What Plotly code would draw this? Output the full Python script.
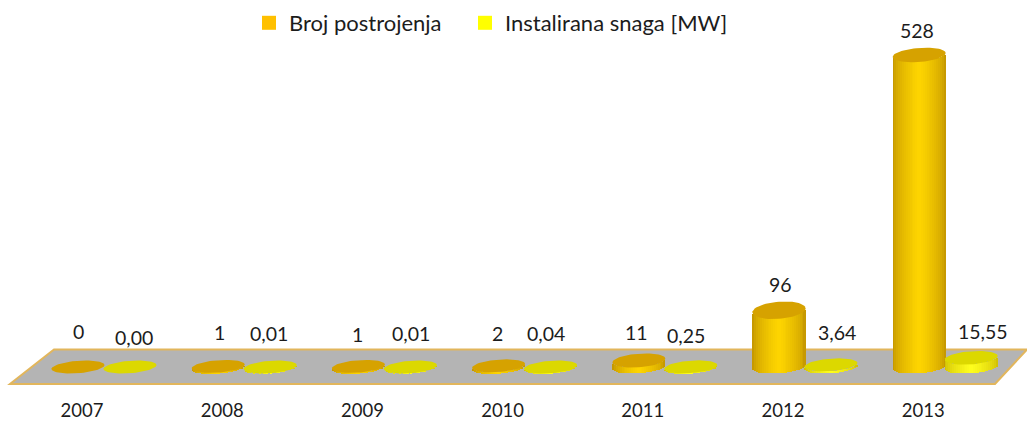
import numpy as np
import plotly.graph_objects as go

# ---- data ----
years = [2007, 2008, 2009, 2010, 2011, 2012, 2013]
broj_postrojenja = [0, 1, 1, 2, 11, 96, 528]
instalirana_snaga = [0.00, 0.01, 0.01, 0.04, 0.25, 3.64, 15.55]
broj_labels = ["0", "1", "1", "2", "11", "96", "528"]
snaga_labels = ["0,00", "0,01", "0,01", "0,04", "0,25", "3,64", "15,55"]
series_names = ["Broj postrojenja", "Instalirana snaga [MW]"]

# ---- geometry / style ----
W, H = 1027, 421
AXIS_PX, ZERO_PX, PX_PER_UNIT = 397, 367, 0.591
X0_PX, PX_PER_YEAR = 82, 140.2
FONT = "Lato"
FS_LABEL = 19.5
FS_TICK = 18.5
FS_LEGEND = 22
TXT = "#1c1c1c"


def xdata(px):
    return 2007 + (px - X0_PX) / PX_PER_YEAR


def paper_x(px):
    return px / W


def paper_y(py):
    return 1 - py / AXIS_PX


def mix(c1, c2, t):
    a, b = np.array(c1, float), np.array(c2, float)
    r = a + (b - a) * t
    return "rgb(%d,%d,%d)" % tuple(r)


HALF_W, TILT = 26.5, 1.9
STRIPS = 28
broj_half_h = [6.2, 6.2, 6.2, 6.2, 6.8, 8.6, 7.0]
snaga_half_h = [6.2, 6.2, 6.2, 6.2, 6.2, 6.2, 6.6]


def cylinder(values, half_hs, offset_px, edge, centre):
    xs, bases, heights, colors = [], [], [], []
    sw = 2 * HALF_W / STRIPS
    for yr, v, hh in zip(years, values, half_hs):
        for i in range(STRIPS):
            dx = -HALF_W + sw * (i + 0.5)
            u = dx / HALF_W
            low = -6.2 * np.sqrt(1 - u * u) + TILT * u
            xs.append(yr + (offset_px + dx) / PX_PER_YEAR)
            bases.append(low / PX_PER_UNIT)
            heights.append(v)
            colors.append(mix(edge, centre, (1 - abs(u)) ** 0.5))
    return go.Bar(
        x=xs, y=heights, base=bases, width=1.12 * sw / PX_PER_YEAR,
        marker=dict(color=colors, line=dict(width=0)),
        showlegend=False, hoverinfo="skip",
    )


def disc(yr, v, hh, offset_px, color):
    t = np.linspace(0, 2 * np.pi, 61)
    px = offset_px + HALF_W * np.cos(t)
    py = hh * np.sin(t) + TILT * np.cos(t)
    return go.Scatter(
        x=yr + px / PX_PER_YEAR, y=v + py / PX_PER_UNIT, mode="lines",
        fill="toself", fillcolor=color, line=dict(width=0, color=color),
        showlegend=False, hoverinfo="skip",
    )


fig = go.Figure()
BROJ_OFF, SNAGA_OFF = -4, 48

fig.add_trace(cylinder(broj_postrojenja, broj_half_h, BROJ_OFF, (186, 140, 0), (255, 214, 0)))
fig.add_trace(cylinder(instalirana_snaga, snaga_half_h, SNAGA_OFF, (200, 180, 0), (255, 255, 30)))
for yr, v, hh in zip(years, broj_postrojenja, broj_half_h):
    fig.add_trace(disc(yr, v, hh, BROJ_OFF, "#d6a200"))
for yr, v, hh in zip(years, instalirana_snaga, snaga_half_h):
    fig.add_trace(disc(yr, v, hh, SNAGA_OFF, "#dcd800"))

# real legend entries
fig.add_trace(go.Scatter(x=[None], y=[None], mode="markers", name=series_names[0],
                         marker=dict(symbol="square", size=14, color="#ffc000"), legend="legend"))
fig.add_trace(go.Scatter(x=[None], y=[None], mode="markers", name=series_names[1],
                         marker=dict(symbol="square", size=14, color="#ffff00"), legend="legend2"))

# value labels: pixel lift above each column top
broj_lift = [36, 34, 32, 32, 28, 26, 24]
snaga_lift = [30, 33, 33, 33, 31, 32, 26]
broj_dx = [-4, -3, -5, -5, -6, -3, -6]
snaga_dx = [52, 47, 49, 43, 43, 54, 60]
annotations = []
for yr, v, s, lift, dx in zip(years, broj_postrojenja, broj_labels, broj_lift, broj_dx):
    annotations.append(dict(x=yr, y=v, xref="x", yref="y", text=s, showarrow=False,
                            xshift=dx, yshift=lift, font=dict(family=FONT, size=FS_LABEL, color=TXT)))
for yr, v, s, lift, dx in zip(years, instalirana_snaga, snaga_labels, snaga_lift, snaga_dx):
    annotations.append(dict(x=yr, y=v, xref="x", yref="y", text=s, showarrow=False,
                            xshift=dx, yshift=lift, font=dict(family=FONT, size=FS_LABEL, color=TXT)))

floor = [(54, 349.5), (1027, 349.5), (995, 384), (10, 384)]
floor_path = "M " + " L ".join(f"{paper_x(a):.5f},{paper_y(b):.5f}" for a, b in floor) + " Z"

legend_common = dict(orientation="h", xanchor="left", yanchor="middle",
                     bgcolor="rgba(0,0,0,0)", itemsizing="trace",
                     font=dict(family=FONT, size=FS_LEGEND, color=TXT))
fig.update_layout(
    width=W, height=H, autosize=False,
    margin=dict(l=0, r=0, t=0, b=H - AXIS_PX, pad=0),
    paper_bgcolor="white", plot_bgcolor="white",
    barmode="overlay", bargap=0,
    xaxis=dict(range=[xdata(0), xdata(W)], tickmode="array", tickvals=years, automargin=False,
               ticktext=[str(y) for y in years], showgrid=False, zeroline=False,
               showline=False, ticks="", tickfont=dict(family=FONT, size=FS_TICK, color=TXT)),
    yaxis=dict(range=[(ZERO_PX - AXIS_PX) / PX_PER_UNIT, ZERO_PX / PX_PER_UNIT], automargin=False,
               visible=False, showgrid=False, zeroline=False),
    legend=dict(x=paper_x(249), y=paper_y(23), **legend_common),
    legend2=dict(x=paper_x(465), y=paper_y(23), **legend_common),
    shapes=[dict(type="path", path=floor_path, xref="paper", yref="paper", layer="below",
                 fillcolor="#b4b4b4", line=dict(color="#e2b65c", width=2))],
    annotations=annotations,
)

fig.write_html("out.html", config={"displayModeBar": False},
               post_script="document.body.style.margin='0';")
